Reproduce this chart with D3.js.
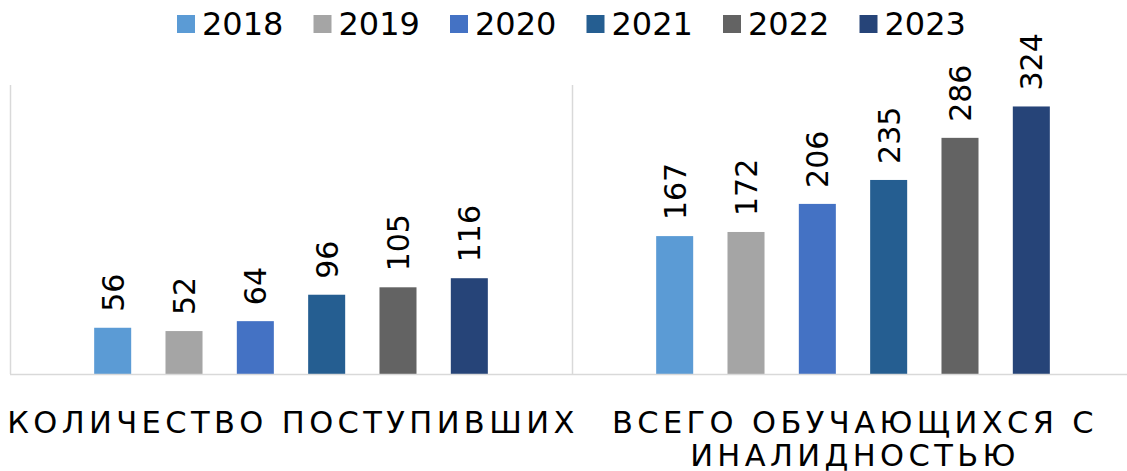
<!DOCTYPE html>
<html>
<head>
<meta charset="utf-8">
<script src="https://cdn.jsdelivr.net/npm/d3@7"></script>
<style>
  html, body { margin: 0; padding: 0; background: #fff; }
  svg text { font-family: "DejaVu Sans", Verdana, sans-serif; fill: #000; }
</style>
</head>
<body>
<svg id="chart" width="1127" height="471"></svg>
<script>
const categories = ["КОЛИЧЕСТВО ПОСТУПИВШИХ", "ВСЕГО ОБУЧАЮЩИХСЯ С ИНАЛИДНОСТЬЮ"];
const years = ["2018", "2019", "2020", "2021", "2022", "2023"];
const values2018 = [56, 167];
const values2019 = [52, 172];
const values2020 = [64, 206];
const values2021 = [96, 235];
const values2022 = [105, 286];
const values2023 = [116, 324];
const colors = ["#5B9BD5", "#A5A5A5", "#4472C4", "#255E91", "#636363", "#264478"];
const yMax = 350;

const seriesValues = [values2018, values2019, values2020, values2021, values2022, values2023];

(function () {
const svg = d3.select("#chart");
const mLeft = 10, mRight = 1134, mTop = 85, mBottom = 374;

const x0 = d3.scaleBand().domain(categories).range([mLeft, mRight]).padding(0);
const x1 = d3.scaleBand().domain(years).range([0, x0.bandwidth()])
  .paddingInner(0.481).paddingOuter(1.18);
const y = d3.scaleLinear().domain([0, yMax]).range([mBottom, mTop]);

// vertical separators
const sepG = svg.append("g");
categories.forEach(c => {
  sepG.append("line")
    .attr("x1", x0(c) + 0.5).attr("x2", x0(c) + 0.5)
    .attr("y1", mTop).attr("y2", mBottom)
    .attr("stroke", "#d9d9d9").attr("stroke-width", 1.5);
});

// bars
const groups = svg.append("g").selectAll("g")
  .data(categories).join("g")
  .attr("transform", c => `translate(${x0(c)},0)`);

groups.selectAll("rect")
  .data((c, ci) => years.map((yr, si) => ({ yr, si, v: seriesValues[si][ci] })))
  .join("rect")
  .attr("x", d => x1(d.yr))
  .attr("width", x1.bandwidth())
  .attr("y", d => y(d.v))
  .attr("height", d => y(0) - y(d.v))
  .attr("fill", d => colors[d.si]);

groups.selectAll("text.val")
  .data((c, ci) => years.map((yr, si) => ({ yr, si, v: seriesValues[si][ci] })))
  .join("text")
  .attr("class", "val")
  .attr("transform", d => `translate(${x1(d.yr) + x1.bandwidth() / 2 + 11},${y(d.v) - 16}) rotate(-90)`)
  .attr("text-anchor", "start")
  .style("font-size", "30px")
  .text(d => d.v);

// x axis line
const xAxis = d3.axisBottom(x0).tickSize(0).tickFormat("");
const axG = svg.append("g").attr("transform", `translate(0,${mBottom})`).call(xAxis);
axG.select(".domain").attr("stroke", "#d9d9d9").attr("stroke-width", 1.5)
  .attr("d", `M${mLeft},0.5H${mRight}`);

// category labels with wrapping
const labG = svg.append("g");
const labFont = "30.5px", labSpacing = "4.4px";
categories.forEach(c => {
  const t = labG.append("text")
    .attr("text-anchor", "middle")
    .style("font-size", labFont)
    .style("letter-spacing", labSpacing);
  const cx = x0(c) + x0.bandwidth() / 2;
  const words = c.split(" ");
  let lines = [];
  let cur = [];
  const maxW = x0.bandwidth() + 20;
  const probe = labG.append("text").style("font-size", labFont).style("letter-spacing", labSpacing);
  words.forEach(w => {
    const test = cur.concat([w]).join(" ");
    probe.text(test);
    if (probe.node().getComputedTextLength() > maxW && cur.length) {
      lines.push(cur.join(" "));
      cur = [w];
    } else cur.push(w);
  });
  lines.push(cur.join(" "));
  probe.remove();
  lines.forEach((ln, i) => {
    t.append("tspan").attr("x", cx + 2).attr("y", 433 + i * 33).text(ln);
  });
});

// legend
const legG = svg.append("g");
const legStart = 177, legStep = 136.5;
years.forEach((yr, i) => {
  const gx = legStart + i * legStep;
  legG.append("rect").attr("x", gx).attr("y", 15).attr("width", 18).attr("height", 18)
    .attr("fill", colors[i]);
  legG.append("text").attr("x", gx + 25).attr("y", 35)
    .style("font-size", "32px").text(yr);
});
})();
</script>
</body>
</html>
